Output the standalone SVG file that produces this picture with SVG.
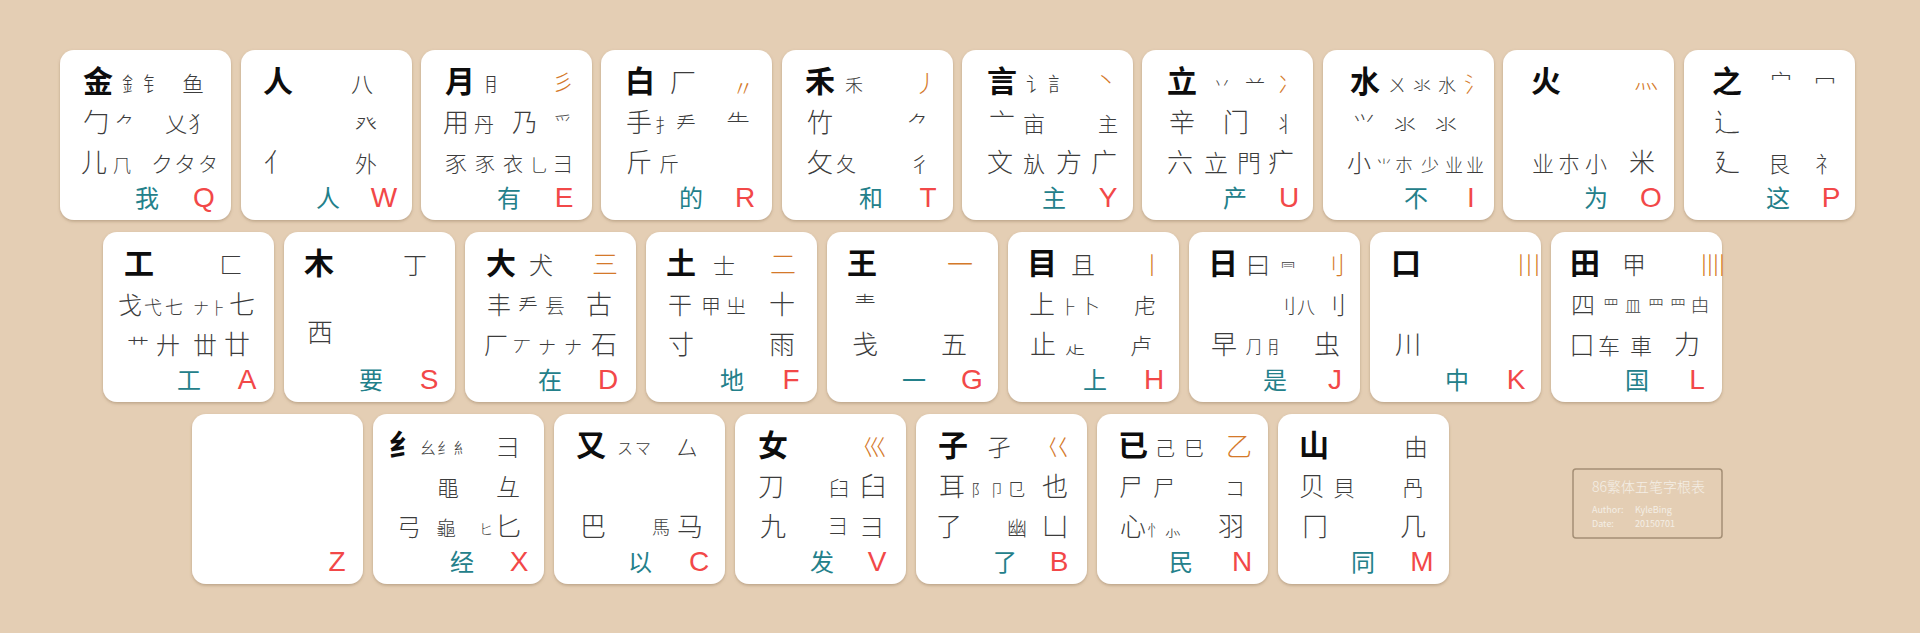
<svg xmlns="http://www.w3.org/2000/svg" width="1920" height="633" viewBox="0 0 1920 633">
<defs>
<filter id="sh" x="-10%" y="-10%" width="120%" height="125%">
<feDropShadow dx="0" dy="1.5" stdDeviation="1.5" flood-color="#8a6e50" flood-opacity="0.45"/>
</filter>
<style>
text{font-family:"Noto Sans CJK SC","Noto Sans CJK JP",sans-serif;text-anchor:middle}
.key{fill:#ffffff;filter:url(#sh)}
.m{font-size:30px;font-weight:700;fill:#0d0d0d}
.g{font-weight:300;fill:#3c3c3c}
.o{font-weight:300;fill:#d4792a}
.t{font-size:24px;font-weight:400;fill:#23808a}
.k{font-family:"Liberation Sans",Arial,sans-serif;font-size:28px;fill:#f24848}
.f14{font-size:14px}.f16{font-size:16px}.f18{font-size:18px}.f20{font-size:20px}.f22{font-size:22px}.f24{font-size:24px}.f26{font-size:26px}
.info{fill:#f4eee6;text-anchor:start}
</style>
</defs>
<rect width="1920" height="633" fill="#e4ceb4"/>

<!-- Row 1 -->
<g id="key-Q" transform="translate(60,50)"><rect class="key" width="171" height="170" rx="14"/>
<text class="m" x="38" y="42">金</text><text class="g f20" x="72" y="42">釒</text><text class="g f20" x="93" y="42">钅</text><text class="g f22" x="133" y="42">鱼</text>
<text class="g f26" x="36" y="82">勹</text><text class="g f20" x="65" y="82">⺈</text><text class="g f22" x="116" y="82">乂</text><text class="g f22" x="139" y="82">犭</text>
<text class="g f26" x="34" y="122">儿</text><text class="g f18" x="62" y="122">⺇</text><text class="g f22" x="102" y="122">ク</text><text class="g f22" x="125" y="122">タ</text><text class="g f20" x="148" y="122">タ</text>
<text class="t" x="87" y="157">我</text><text class="k" x="144" y="157">Q</text></g>

<g id="key-W" transform="translate(241,50)"><rect class="key" width="171" height="170" rx="14"/>
<text class="m" x="37" y="42">人</text><text class="g f22" x="121" y="42">八</text>
<text class="g f22" x="125" y="82">癶</text>
<text class="g f26" x="36" y="122">亻</text><text class="g f22" x="125" y="122">外</text>
<text class="t" x="87" y="157">人</text><text class="k" x="143" y="157">W</text></g>

<g id="key-E" transform="translate(421,50)"><rect class="key" width="171" height="170" rx="14"/>
<text class="m" x="39" y="42">月</text><text class="g f20" x="73" y="42">⺝</text><text class="o f22" x="142" y="40">彡</text>
<text class="g f26" x="35" y="82">用</text><text class="g f20" x="63" y="82">丹</text><text class="g f26" x="104" y="82">乃</text><text class="g f18" x="142" y="80">爫</text>
<text class="g f22" x="35" y="122">豕</text><text class="g f20" x="64" y="122">豕</text><text class="g f20" x="92" y="122">衣</text><text class="g f18" x="118" y="122">乚</text><text class="g f20" x="142" y="122">⺕</text>
<text class="t" x="88" y="157">有</text><text class="k" x="143" y="157">E</text></g>

<g id="key-R" transform="translate(601,50)"><rect class="key" width="171" height="170" rx="14"/>
<text class="m" x="39" y="42">白</text><text class="g f26" x="82" y="42">厂</text><text class="o f22" x="142" y="46">〃</text>
<text class="g f26" x="38" y="82">手</text><text class="g f18" x="63" y="82">扌</text><text class="g f20" x="85" y="82">龵</text><text class="g f24" x="137" y="82">⺧</text>
<text class="g f26" x="38" y="122">斤</text><text class="g f20" x="68" y="122">斤</text>
<text class="t" x="90" y="157">的</text><text class="k" x="144" y="157">R</text></g>

<g id="key-T" transform="translate(782,50)"><rect class="key" width="171" height="170" rx="14"/>
<text class="m" x="38" y="42">禾</text><text class="g f18" x="72" y="42">禾</text><text class="o f24" x="144" y="42">丿</text>
<text class="g f26" x="38" y="82">竹</text><text class="g f22" x="136" y="82">⺈</text>
<text class="g f26" x="38" y="122">攵</text><text class="g f20" x="64" y="122">夂</text><text class="g f22" x="138" y="122">彳</text>
<text class="t" x="89" y="157">和</text><text class="k" x="146" y="157">T</text></g>

<g id="key-Y" transform="translate(962,50)"><rect class="key" width="171" height="170" rx="14"/>
<text class="m" x="40" y="42">言</text><text class="g f20" x="74" y="42">讠</text><text class="g f20" x="96" y="42">訁</text><text class="o f22" x="144" y="38">丶</text>
<text class="g f26" x="40" y="82">亠</text><text class="g f22" x="72" y="82">亩</text><text class="g f20" x="146" y="82">主</text>
<text class="g f26" x="38" y="122">文</text><text class="g f22" x="72" y="122">㫃</text><text class="g f26" x="107" y="122">方</text><text class="g f26" x="142" y="122">广</text>
<text class="t" x="92" y="157">主</text><text class="k" x="146" y="157">Y</text></g>

<g id="key-U" transform="translate(1142,50)"><rect class="key" width="171" height="170" rx="14"/>
<text class="m" x="40" y="42">立</text><text class="g f18" x="80" y="40">丷</text><text class="g f20" x="113" y="40">䒑</text><text class="o f22" x="147" y="42">冫</text>
<text class="g f26" x="40" y="82">辛</text><text class="g f26" x="94" y="82">门</text><text class="g f22" x="143" y="82">丬</text>
<text class="g f26" x="38" y="122">六</text><text class="g f24" x="74" y="122">立</text><text class="g f24" x="107" y="122">門</text><text class="g f26" x="139" y="122">疒</text>
<text class="t" x="93" y="157">产</text><text class="k" x="147" y="157">U</text></g>

<g id="key-I" transform="translate(1323,50)"><rect class="key" width="171" height="170" rx="14"/>
<text class="m" x="42" y="42">水</text><text class="g f18" x="74" y="42">ㄨ</text><text class="g f18" x="99" y="42">氺</text><text class="g f18" x="124" y="42">水</text><text class="o f22" x="152" y="42">氵</text>
<text class="g f22" x="41" y="82">⺍</text><text class="g f22" x="82" y="82">氺</text><text class="g f22" x="123" y="82">氺</text>
<text class="g f24" x="36" y="122">小</text><text class="g f16" x="61" y="122">⺌</text><text class="g f18" x="81" y="122">朩</text><text class="g f18" x="107" y="122">少</text><text class="g f18" x="131" y="122">业</text><text class="g f18" x="152" y="122">业</text>
<text class="t" x="93" y="157">不</text><text class="k" x="148" y="157">I</text></g>

<g id="key-O" transform="translate(1503,50)"><rect class="key" width="171" height="170" rx="14"/>
<text class="m" x="43" y="42">火</text><text class="o f24" x="143" y="38">灬</text>
<text class="g f22" x="40" y="122">业</text><text class="g f22" x="66" y="122">朩</text><text class="g f22" x="93" y="122">小</text><text class="g f26" x="139" y="122">米</text>
<text class="t" x="93" y="157">为</text><text class="k" x="148" y="157">O</text></g>

<g id="key-P" transform="translate(1684,50)"><rect class="key" width="171" height="170" rx="14"/>
<text class="m" x="43" y="42">之</text><text class="g f22" x="97" y="40">宀</text><text class="g f22" x="141" y="40">冖</text>
<text class="g f26" x="43" y="82">辶</text>
<text class="g f26" x="43" y="122">廴</text><text class="g f22" x="95" y="122">艮</text><text class="g f22" x="142" y="122">礻</text>
<text class="t" x="94" y="157">这</text><text class="k" x="147" y="157">P</text></g>

<!-- Row 2 -->
<g id="key-A" transform="translate(103,232)"><rect class="key" width="171" height="170" rx="14"/>
<text class="m" x="36" y="42">工</text><text class="g f24" x="128" y="42">匚</text>
<text class="g f24" x="27" y="82">戈</text><text class="g f18" x="50" y="82">弋</text><text class="g f18" x="71" y="82">七</text><text class="g f16" x="98" y="82">ナ</text><text class="g f16" x="115" y="82">⺊</text><text class="g f26" x="139" y="82">七</text>
<text class="g f22" x="35" y="122">艹</text><text class="g f24" x="65" y="122">廾</text><text class="g f24" x="102" y="122">丗</text><text class="g f26" x="134" y="122">廿</text>
<text class="t" x="86" y="157">工</text><text class="k" x="144" y="157">A</text></g>

<g id="key-S" transform="translate(284,232)"><rect class="key" width="171" height="170" rx="14"/>
<text class="m" x="35" y="42">木</text><text class="g f24" x="131" y="42">丁</text>
<text class="g f26" x="36" y="110">西</text>
<text class="t" x="87" y="157">要</text><text class="k" x="145" y="157">S</text></g>

<g id="key-D" transform="translate(465,232)"><rect class="key" width="171" height="170" rx="14"/>
<text class="m" x="36" y="42">大</text><text class="g f24" x="76" y="42">犬</text><text class="o f26" x="140" y="42">三</text>
<text class="g f24" x="34" y="82">丰</text><text class="g f20" x="63" y="82">龵</text><text class="g f20" x="90" y="82">镸</text><text class="g f26" x="134" y="82">古</text>
<text class="g f24" x="31" y="122">厂</text><text class="g f18" x="57" y="122">丆</text><text class="g f18" x="82" y="122">ナ</text><text class="g f18" x="108" y="122">ナ</text><text class="g f26" x="139" y="122">石</text>
<text class="t" x="85" y="157">在</text><text class="k" x="143" y="157">D</text></g>

<g id="key-F" transform="translate(646,232)"><rect class="key" width="171" height="170" rx="14"/>
<text class="m" x="35" y="42">土</text><text class="g f22" x="78" y="42">士</text><text class="o f26" x="137" y="42">二</text>
<text class="g f24" x="34" y="82">干</text><text class="g f20" x="65" y="82">甲</text><text class="g f20" x="90" y="82">㞢</text><text class="g f26" x="136" y="82">十</text>
<text class="g f26" x="35" y="122">寸</text><text class="g f26" x="136" y="122">雨</text>
<text class="t" x="86" y="157">地</text><text class="k" x="145" y="157">F</text></g>

<g id="key-G" transform="translate(827,232)"><rect class="key" width="171" height="170" rx="14"/>
<text class="m" x="35" y="42">王</text><text class="o f26" x="133" y="42">一</text>
<text class="g f22" x="38" y="80">龶</text>
<text class="g f26" x="38" y="122">戋</text><text class="g f26" x="127" y="122">五</text>
<text class="t" x="87" y="157">一</text><text class="k" x="145" y="157">G</text></g>

<g id="key-H" transform="translate(1008,232)"><rect class="key" width="171" height="170" rx="14"/>
<text class="m" x="34" y="42">目</text><text class="g f24" x="75" y="42">且</text><text class="o f24" x="144" y="42">丨</text>
<text class="g f26" x="34" y="82">上</text><text class="g f18" x="61" y="82">⺊</text><text class="g f20" x="82" y="82">卜</text><text class="g f22" x="137" y="82">虍</text>
<text class="g f26" x="35" y="122">止</text><text class="g f20" x="67" y="122">龰</text><text class="g f22" x="133" y="122">卢</text>
<text class="t" x="87" y="157">上</text><text class="k" x="146" y="157">H</text></g>

<g id="key-J" transform="translate(1189,232)"><rect class="key" width="171" height="170" rx="14"/>
<text class="m" x="34" y="42">日</text><text class="g f24" x="69" y="42">曰</text><text class="g f16" x="99" y="42">⺜</text><text class="o f24" x="144" y="42">刂</text>
<text class="g f20" x="97" y="82">刂</text><text class="g f18" x="117" y="82">八</text><text class="g f24" x="145" y="82">刂</text>
<text class="g f26" x="35" y="122">早</text><text class="g f18" x="65" y="122">⺆</text><text class="g f18" x="87" y="122">⺝</text><text class="g f26" x="138" y="122">虫</text>
<text class="t" x="86" y="157">是</text><text class="k" x="146" y="157">J</text></g>

<g id="key-K" transform="translate(1370,232)"><rect class="key" width="171" height="170" rx="14"/>
<text class="m" x="36" y="42">口</text><text class="o f24" x="151" y="42" letter-spacing="-16">丨丨丨</text>
<text class="g f26" x="38" y="122">川</text>
<text class="t" x="87" y="157">中</text><text class="k" x="146" y="157">K</text></g>

<g id="key-L" transform="translate(1551,232)"><rect class="key" width="171" height="170" rx="14"/>
<text class="m" x="34" y="42">田</text><text class="g f24" x="83" y="42">甲</text><text class="o f24" x="153" y="42" letter-spacing="-18">丨丨丨丨</text>
<text class="g f24" x="32" y="82">四</text><text class="g f16" x="60" y="80">罒</text><text class="g f16" x="82" y="80">皿</text><text class="g f16" x="105" y="80">⺫</text><text class="g f16" x="127" y="80">⺲</text><text class="g f18" x="149" y="80">甴</text>
<text class="g f24" x="31" y="122">囗</text><text class="g f22" x="58" y="122">车</text><text class="g f22" x="90" y="122">車</text><text class="g f26" x="136" y="122">力</text>
<text class="t" x="86" y="157">国</text><text class="k" x="146" y="157">L</text></g>

<!-- Row 3 -->
<g id="key-Z" transform="translate(192,414)"><rect class="key" width="171" height="170" rx="14"/>
<text class="k" x="145" y="157">Z</text></g>

<g id="key-X" transform="translate(373,414)"><rect class="key" width="171" height="170" rx="14"/>
<text class="m" x="31" y="42">纟</text><text class="g f16" x="55" y="40">幺</text><text class="g f16" x="72" y="40">纟</text><text class="g f16" x="89" y="40">糹</text><text class="g f24" x="135" y="42">⺕</text>
<text class="g f22" x="75" y="82">黽</text><text class="g f24" x="135" y="82">彑</text>
<text class="g f24" x="36" y="122">弓</text><text class="g f20" x="73" y="122">⻱</text><text class="g f14" x="113" y="120">ヒ</text><text class="g f26" x="135" y="122">匕</text>
<text class="t" x="89" y="157">经</text><text class="k" x="146" y="157">X</text></g>

<g id="key-C" transform="translate(554,414)"><rect class="key" width="171" height="170" rx="14"/>
<text class="m" x="37" y="42">又</text><text class="g f16" x="71" y="40">ス</text><text class="g f16" x="89" y="40">マ</text><text class="g f22" x="133" y="42">厶</text>
<text class="g f26" x="39" y="122">巴</text><text class="g f18" x="107" y="120">馬</text><text class="g f26" x="136" y="122">马</text>
<text class="t" x="86" y="157">以</text><text class="k" x="145" y="157">C</text></g>

<g id="key-V" transform="translate(735,414)"><rect class="key" width="171" height="170" rx="14"/>
<text class="m" x="38" y="42">女</text><text class="o f24" x="140" y="42">巛</text>
<text class="g f26" x="36" y="82">刀</text><text class="g f20" x="104" y="82">臼</text><text class="g f26" x="138" y="82">臼</text>
<text class="g f26" x="38" y="122">九</text><text class="g f20" x="103" y="120">⺕</text><text class="g f24" x="137" y="122">彐</text>
<text class="t" x="87" y="157">发</text><text class="k" x="142" y="157">V</text></g>

<g id="key-B" transform="translate(916,414)"><rect class="key" width="171" height="170" rx="14"/>
<text class="m" x="37" y="42">子</text><text class="g f24" x="83" y="42">孑</text><text class="o f24" x="142" y="42">巜</text>
<text class="g f26" x="36" y="82">耳</text><text class="g f16" x="63" y="82">阝</text><text class="g f16" x="81" y="82">卩</text><text class="g f18" x="100" y="82">㔾</text><text class="g f26" x="139" y="82">也</text>
<text class="g f26" x="33" y="122">了</text><text class="g f20" x="101" y="122">幽</text><text class="g f26" x="139" y="122">凵</text>
<text class="t" x="89" y="157">了</text><text class="k" x="143" y="157">B</text></g>

<g id="key-N" transform="translate(1097,414)"><rect class="key" width="171" height="170" rx="14"/>
<text class="m" x="36" y="42">已</text><text class="g f20" x="68" y="42">己</text><text class="g f20" x="97" y="42">巳</text><text class="o f26" x="142" y="42">乙</text>
<text class="g f24" x="34" y="82">尸</text><text class="g f22" x="67" y="82">尸</text><text class="g f20" x="138" y="82">コ</text>
<text class="g f26" x="36" y="122">心</text><text class="g f16" x="58" y="122">忄</text><text class="g f18" x="76" y="122">⺗</text><text class="g f26" x="134" y="122">羽</text>
<text class="t" x="84" y="157">民</text><text class="k" x="145" y="157">N</text></g>

<g id="key-M" transform="translate(1278,414)"><rect class="key" width="171" height="170" rx="14"/>
<text class="m" x="36" y="42">山</text><text class="g f24" x="138" y="42">由</text>
<text class="g f26" x="34" y="82">贝</text><text class="g f22" x="66" y="82">貝</text><text class="g f22" x="135" y="82">冎</text>
<text class="g f26" x="37" y="122">冂</text><text class="g f26" x="135" y="122">几</text>
<text class="t" x="85" y="157">同</text><text class="k" x="144" y="157">M</text></g>

<!-- Info box -->
<g id="info">
<rect x="1573" y="469" width="149" height="69" rx="3" fill="none" stroke="#a48f75" stroke-width="1.5"/>
<text class="info" x="1592" y="492" font-size="14" font-weight="300">86繁体五笔字根表</text>
<text class="info" x="1592" y="513" font-size="9" font-family="Liberation Sans, sans-serif">Author:</text>
<text class="info" x="1635" y="513" font-size="9" font-family="Liberation Sans, sans-serif">KyleBing</text>
<text class="info" x="1592" y="527" font-size="9" font-family="Liberation Sans, sans-serif">Date:</text>
<text class="info" x="1635" y="527" font-size="9" font-family="Liberation Sans, sans-serif">20150701</text>
</g>
</svg>
